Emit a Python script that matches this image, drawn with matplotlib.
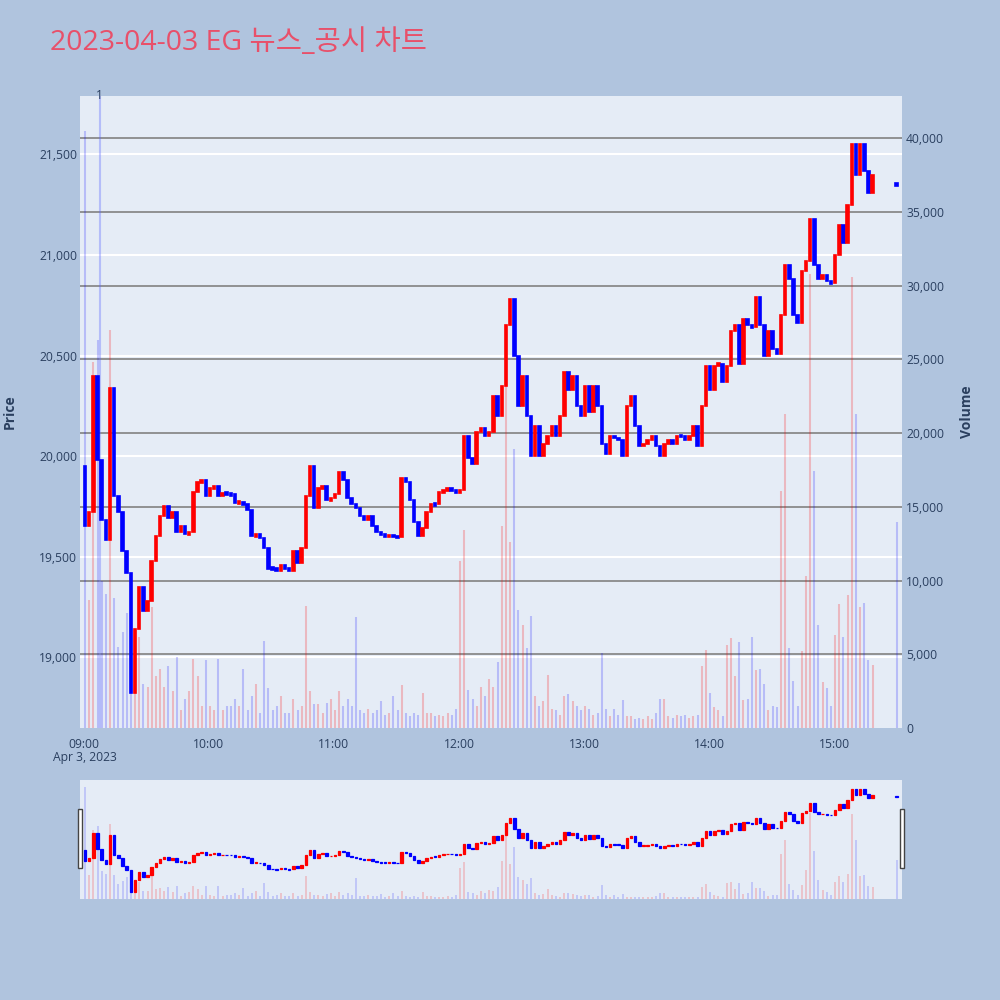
import matplotlib.pyplot as plt
from matplotlib.patches import Rectangle

# ---- data (2-minute bins, minutes after 09:00) ----
title = "2023-04-03 EG 뉴스_공시 차트"
first_open = 19950
bin_start = list(range(0, 380, 2))
closes = [
    19650, 19720, 20400, 19980, 19680, 19580, 20340, 19800, 19720, 19530,
    19420, 18820, 19140, 19350, 19230, 19280, 19480, 19600, 19700, 19750,
    19690, 19720, 19620, 19650, 19610, 19620, 19820, 19870, 19880, 19800,
    19840, 19850, 19800, 19815, 19810, 19810, 19765, 19770, 19760, 19730,
    19600, 19610, 19590, 19540, 19440, 19440, 19430, 19460, 19440, 19430,
    19530, 19470, 19540, 19800, 19950, 19740, 19840, 19850, 19780, 19790,
    19810, 19920, 19880, 19790, 19760, 19740, 19700, 19680, 19700, 19650,
    19620, 19610, 19600, 19605, 19600, 19595, 19890, 19870, 19780, 19670,
    19600, 19640, 19720, 19760, 19760, 19820, 19830, 19840, 19830, 19820,
    19830, 20100, 19990, 19960, 20120, 20140, 20100, 20120, 20300, 20200,
    20350, 20650, 20780, 20500, 20250, 20400, 20200, 20000, 20150, 20000,
    20060, 20100, 20150, 20100, 20200, 20420, 20330, 20400, 20250, 20200,
    20350, 20220, 20350, 20250, 20060, 20010, 20100, 20090, 20080, 20000,
    20250, 20300, 20150, 20050, 20060, 20080, 20100, 20050, 20000, 20060,
    20080, 20060, 20100, 20100, 20080, 20100, 20150, 20050, 20250, 20450,
    20330, 20450, 20460, 20370, 20450, 20620, 20650, 20460, 20680, 20650,
    20640, 20790, 20650, 20500, 20620, 20530, 20510, 20700, 20950, 20880,
    20700, 20660, 20920, 20970, 21180, 20950, 20880, 20900, 20870, 20860,
    21000, 21150, 21060, 21250, 21550, 21400, 21550, 21420, 21310, 21400,
]
volumes = [
    40500, 8700, 24800, 26300, 10000, 9100, 27000, 8800, 5500, 6500,
    7800, 10000, 3000, 6200, 3000, 2800, 8200, 3500, 4000, 2800,
    4200, 2500, 4800, 1200, 2000, 2500, 4700, 3500, 1500, 4600,
    1500, 1200, 4700, 1200, 1500, 1500, 2000, 1500, 4000, 1200,
    2200, 3000, 1000, 5900, 2700, 1200, 1500, 2200, 1000, 1000,
    2000, 1200, 1500, 8300, 2500, 1600, 1600, 1000, 1700, 2000,
    1200, 2500, 1500, 2000, 1500, 7500, 1200, 1000, 1300, 1000,
    1200, 1800, 900, 1000, 2200, 1200, 2900, 1000, 800, 1000,
    900, 2400, 1000, 1000, 800, 900, 800, 1000, 900, 1300,
    11300, 13400, 2600, 2000, 1500, 2800, 2200, 3300, 2800, 4500,
    13700, 23800, 12600, 18900, 8000, 7000, 5400, 7600, 2200, 1500,
    1800, 3600, 1300, 1200, 900, 2200, 2300, 1800, 1500, 1200,
    1500, 1300, 900, 1000, 5100, 1300, 800, 1300, 900, 1900,
    800, 800, 600, 700, 600, 800, 600, 1000, 2000, 2000,
    800, 700, 900, 800, 900, 700, 800, 900, 4200, 5300,
    2400, 1400, 1200, 800, 5600, 6100, 3500, 5800, 1900, 2000,
    6200, 3900, 4000, 3000, 1200, 1500, 1400, 16100, 21300, 5400,
    3200, 1500, 5200, 10300, 30800, 17400, 7000, 3100, 2700, 1500,
    6300, 8400, 6200, 9000, 30600, 21300, 8200, 8500, 4600, 4300,
]
closing_minute = 390          # 15:30 closing auction
closing_price = 21350
closing_volume = 14000
news_minute = 7.5             # marker "1"
time_labels = ["09:00", "10:00", "11:00", "12:00", "13:00", "14:00", "15:00"]
price_ticks = [19000, 19500, 20000, 20500, 21000, 21500]
volume_ticks = list(range(0, 40001, 5000))

PRICE_LIM = (18647, 21791)
VOL_MAX = 42850
XLIM = (-1.92, 392.6)

UP, DOWN = "#ff0000", "#0000ff"
TXT = "#2a3f5f"

plt.rcParams['font.family'] = ['Open Sans', 'Noto Sans CJK KR', 'DejaVu Sans']

x = [m + 0.5 for m in bin_start] + [closing_minute]
c_all = closes + [closing_price]
o_all = [first_open] + closes[:-1] + [closing_price]
v_all = volumes + [closing_volume]
colors = [UP if c > o else DOWN for o, c in zip(o_all, c_all)]
vcolors = [(1, 0, 0, 0.22) if col == UP else (0, 0, 1, 0.2) for col in colors]


def draw_candles(a, width, lw, vol_lw, min_body):
    # volume bars, drawn in axes-fraction height
    a.vlines(x, 0, [v / VOL_MAX for v in v_all], colors=vcolors, linewidth=vol_lw,
             transform=a.get_xaxis_transform(), zorder=1)
    bottoms, heights = [], []
    for o, c in zip(o_all, c_all):
        lo, hi = min(o, c), max(o, c)
        if hi - lo < min_body:
            mid = (hi + lo) / 2
            lo, hi = mid - min_body / 2, mid + min_body / 2
        bottoms.append(lo)
        heights.append(hi - lo)
    a.bar(x, heights, bottom=bottoms, width=width, color=colors, edgecolor=colors,
          linewidth=lw, zorder=3)


fig = plt.figure(figsize=(10, 10), dpi=100)
fig.patch.set_facecolor('#b0c4de')

ax = fig.add_axes([0.080, 0.272, 0.822, 0.632])
ax.set_facecolor('#e5ecf6')
ax.set_xlim(*XLIM)
ax.set_ylim(*PRICE_LIM)
for s in ax.spines.values():
    s.set_visible(False)

# price grid (white) and volume grid (gray)
for p in price_ticks:
    ax.axhline(p, color='white', linewidth=1.5, zorder=0.5)
for v in volume_ticks[1:]:
    ax.plot([0, 1], [v / VOL_MAX] * 2, color='#8a8a8a', linewidth=1.3,
            transform=ax.transAxes, zorder=0.6)

draw_candles(ax, 1.2, 1.2, 1.5, 14)

# news marker
ax.axvline(news_minute, color=(0.35, 0.4, 1, 0.35), linewidth=1.5, zorder=1.5)
ax.text(news_minute, PRICE_LIM[1], "1", ha='center', va='center', fontsize=8.5,
        color=TXT)

ax.set_yticks(price_ticks)
ax.set_yticklabels([f"{p:,}" for p in price_ticks])
ax.set_xticks([60 * i for i in range(7)])
ax.set_xticklabels(time_labels)
ax.tick_params(axis='both', length=0, labelsize=8.7, labelcolor=TXT)
ax.tick_params(axis='y', pad=2)
ax.tick_params(axis='x', pad=7)
ax.set_ylabel("Price", fontsize=10, fontweight='bold', color=TXT, labelpad=16)

axv = ax.twinx()
axv.set_ylim(0, VOL_MAX)
axv.set_yticks(volume_ticks)
axv.set_yticklabels([f"{v:,}" for v in volume_ticks])
axv.tick_params(axis='y', length=0, labelsize=8.7, labelcolor=TXT, pad=3)
axv.set_ylabel("Volume", fontsize=10, fontweight='bold', color=TXT, labelpad=11)
for s in axv.spines.values():
    s.set_visible(False)

fig.text(0.085, 0.242, "Apr 3, 2023", ha='center', va='center', fontsize=8.7,
         color=TXT)
fig.text(0.05, 0.957, title, ha='left', va='center', fontsize=20.5,
         color='#e8506a')

# range slider
sl = fig.add_axes([0.080, 0.101, 0.822, 0.119])
sl.set_facecolor('#e5ecf6')
sl.set_xlim(*XLIM)
sl.set_ylim(*PRICE_LIM)
sl.set_xticks([])
sl.set_yticks([])
for s in sl.spines.values():
    s.set_visible(False)
draw_candles(sl, 1.2, 0.9, 1.1, 20)
for hx in (0.0, 1.0):
    sl.add_patch(Rectangle((hx - 0.0025, 0.26), 0.005, 0.5, transform=sl.transAxes,
                           facecolor='white', edgecolor='#444444', linewidth=1,
                           clip_on=False, zorder=5))

fig.savefig("out.png", dpi=100, facecolor=fig.get_facecolor())
